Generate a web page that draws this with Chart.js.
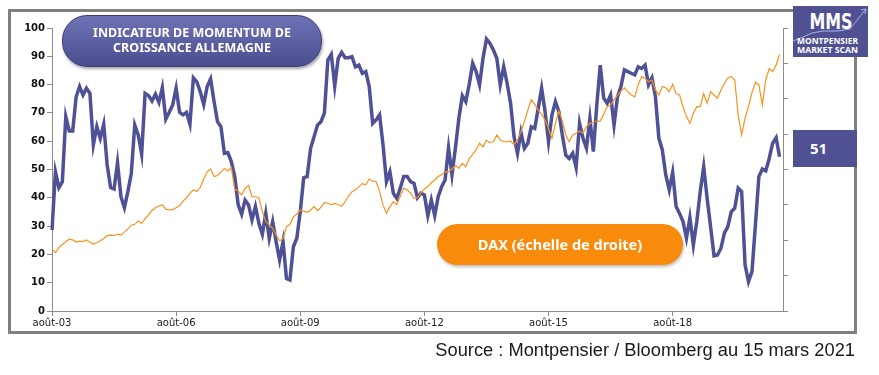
<!DOCTYPE html>
<html>
<head>
<meta charset="utf-8">
<script src="https://cdn.jsdelivr.net/npm/chart.js@4.4.1/dist/chart.umd.min.js"></script>
<style>
body { margin: 0; background: #fff; }
#wrap { position: relative; width: 879px; height: 375px; overflow: hidden; }
#frame { position: absolute; left: 8px; top: 9px; width: 843px; height: 319px; border: 3px solid #808080; }
#myChart { position: absolute; left: 0; top: 0; }
.pill { position: absolute; color: #fff; font-family: "Noto Sans", sans-serif; font-weight: bold; text-align: center; }
#title { left: 62px; top: 15px; width: 258px; height: 48px; border-radius: 25px;
  background: linear-gradient(#7072b6, #4b4d91); border: 1px solid #3a3c77;
  box-shadow: 1px 2px 3px rgba(0,0,0,0.35); font-size: 12.5px; line-height: 15px; padding-top: 2px; box-sizing: content-box; }
#title div { margin-top: 7px; }
#dax { left: 437px; top: 224px; width: 246px; height: 41px; border-radius: 21px; background: #f88a0c;
  box-shadow: 1px 2px 3px rgba(0,0,0,0.25); font-size: 14.5px; line-height: 41px; }
#logo { position: absolute; left: 793px; top: 6px; width: 75px; height: 51px; background: #4f5193; }
#last { position: absolute; left: 793px; top: 130px; width: 64px; height: 37px; background: #4f5193;
  color: #fff; font-family: "Noto Sans", sans-serif; font-weight: bold; font-size: 15px; line-height: 37px; padding-left: 17px; box-sizing: border-box; }
#source { position: absolute; right: 24px; top: 341px; font-family: "Liberation Sans", Arial, sans-serif; font-size: 18.3px; color: #1a1a1a; line-height: 1; }
</style>
</head>
<body>
<div id="wrap">
  <div id="frame"></div>
  <canvas id="myChart" width="879" height="375"></canvas>
  <div class="pill" id="title"><div>INDICATEUR DE MOMENTUM DE<br>CROISSANCE ALLEMAGNE</div></div>
  <div class="pill" id="dax">DAX (échelle de droite)</div>
  <svg id="logo" width="75" height="51" viewBox="0 0 75 51">
    <polyline points="0,35 10,31 19,27 30,25 45,25 57,23 73,3" fill="none" stroke="#a9b0e6" stroke-width="1"/>
    <polyline points="68,4 73,3 72,8" fill="none" stroke="#a9b0e6" stroke-width="1"/>
    <text x="38" y="23" text-anchor="middle" font-family="DejaVu Sans, sans-serif" font-weight="bold" font-size="21" fill="#fff" textLength="43" lengthAdjust="spacingAndGlyphs">MMS</text>
    <text x="4" y="38" font-family="Open Sans, sans-serif" font-weight="bold" font-size="8" fill="#fff" textLength="61" lengthAdjust="spacingAndGlyphs">MONTPENSIER</text>
    <text x="4" y="47" font-family="Open Sans, sans-serif" font-weight="bold" font-size="8" fill="#fff" textLength="61" lengthAdjust="spacingAndGlyphs">MARKET SCAN</text>
  </svg>
  <div id="last">51</div>
  <div id="source">Source : Montpensier / Bloomberg au 15 mars 2021</div>
</div>
<script>
const canvas = document.getElementById('myChart')
let myChart

// mois en abrégé, séries mensuelles d'août 2003 à mars 2021
const monthNames = ['janv', 'févr', 'mars', 'avr', 'mai', 'juin', 'juil', 'août', 'sept', 'oct', 'nov', 'déc']
const firstYear = 2003
const firstMonth = 7   // août
const shownEvery = 36  // une étiquette tous les 3 ans

// indicateur de momentum de croissance Allemagne (échelle de gauche)
const momentum = [
  28.6, 49.2, 43.6, 45.7, 68.7, 63.6, 63.6, 75.7, 79.3, 76.3,
  78.7, 76.9, 58.7, 65.1, 61, 66, 51.6, 43.6, 43.1, 52.4,
  40.4, 36.5, 42.2, 48.6, 65.7, 62.2, 55.4, 76.9, 76.1, 74.2,
  76.6, 73.7, 78.9, 67.8, 70.2, 72.8, 78.7, 70.2, 69.3, 70.2,
  66, 82.4, 81, 77.5, 73, 79.3, 82, 74, 66.9, 65.1,
  55.7, 56, 52.8, 47.5, 37.5, 34.2, 39.2, 37.5, 32.2, 36.9,
  31, 27.1, 34.5, 25.7, 31.6, 24.5, 18, 24.5, 11.5,
  11, 22.7, 25.7, 35.1, 47.1, 47.5, 57.5, 61.6, 65.7, 66.9,
  69.9, 88.7, 90.7, 79.5, 89.3, 91.4, 89.5, 89.5, 89.9, 86.3,
  86.9, 84, 84.6, 79.3, 66.3, 67.5, 69.3, 58.7, 45.7, 49.2,
  41.6, 39.8, 43.4, 47.5, 47.5, 45.7, 45.1, 40, 41.6, 41,
  33.7, 39.2, 33.7, 40.4, 43.9, 46.3, 57.7, 48.1, 57.7, 68.1,
  76.1, 74, 80.1, 87.5, 84.6, 79.9, 89.3, 96.1, 94.6, 92.2,
  89.3, 79.9, 86.3, 80.4, 73.4, 61.6, 55.7, 63.1, 57.5, 59.3, 65.1,
  64.5, 71.6, 78.7, 70.4, 59.8, 69.3, 74, 70.4, 62.2, 55.1,
  53.9, 55.7, 50.7, 66.3, 61, 57.5, 68.1, 56.3, 72.8, 86.9,
  75.2, 73.4, 76.3, 65.7, 75.7, 79.3, 85.2, 84.6, 84, 83.4,
  86.3, 85.7, 86.9, 79.9, 82.4, 75.7, 61, 56.9, 48.1, 42.8,
  49, 36.9, 34.5, 31.6, 25.7, 33, 23.3, 31.6, 42.2, 51,
  39.8, 29.8, 19.5, 19.8, 22.2, 27.5, 29.8, 35.1, 36.3, 43.4,
  42.2, 16.3, 10.4, 13.9, 30.4, 47.5, 50.2, 49.5, 53.9, 59.3, 61.2, 54.5
]

// DAX (échelle de droite)
const dax = [
  3500, 3300, 3600, 3760, 3920, 4060, 4020, 3900, 3950, 3920,
  4020, 3890, 3780, 3860, 3970, 4100, 4260, 4290, 4270, 4350,
  4290, 4460, 4640, 4850, 4900, 5090, 4960, 5220, 5440, 5680,
  5840, 5940, 6000, 5760, 5710, 5730, 5840, 5950, 6210, 6400,
  6660, 6850, 6770, 6980, 7460, 7870, 8030, 7600, 7660, 7870,
  8060, 7920, 8110, 6880, 6780, 6560, 6940, 7090, 6460, 6460,
  6400, 5620, 5060, 4860, 4670, 4300, 3970, 4080, 4770, 4900,
  5330, 5470, 5710, 5650, 5580, 5710, 5900, 5680, 5860, 6140,
  6080, 6020, 6080, 6020, 5920, 6180, 6500, 6750, 6850, 7020,
  7200, 7140, 7460, 7340, 7310, 6750, 6000, 5520, 5900, 6180,
  6020, 6480, 6940, 6850, 6660, 6370, 6400, 6660, 6900, 7020,
  7250, 7410, 7600, 7710, 7870, 7870, 8030, 8220, 8060, 8350,
  8160, 8620, 8860, 9120, 9490, 9280, 9660, 9520, 9570, 9950,
  9660, 9570, 9570, 9600, 9410, 9660, 10140, 10700, 11360, 11940,
  11680, 11360, 11120, 10800, 10320, 9760, 10610, 11310, 10740, 9950,
  9570, 9950, 10050, 10180, 10050, 10420, 10610, 10670, 10740, 10740,
  11120, 11550, 11650, 11940, 12210, 12430, 12620, 12400, 12210, 12110,
  12780, 13250, 13150, 12960, 13060, 12500, 12210, 12690, 12620, 12400,
  12820, 12300, 12210, 11550, 10990, 10610, 11180, 11550, 11550, 12300,
  11740, 12400, 12210, 12030, 12500, 12860, 13180, 13250, 13060, 11090,
  9950, 10900, 11550, 12350, 12930, 12780, 11650, 13060, 13710, 13540, 13900, 14510
]

// un mois vide en plus pour aller jusqu'au bord droit
const labels = []
for (let i = 0; i <= momentum.length; i++) {
    const m = firstMonth + i
    const year = firstYear + Math.floor(m / 12)
    labels.push(monthNames[m % 12] + '-' + String(year % 100).padStart(2, '0'))
}

const axisGrey = '#8c8c8c'

function createChart(){
    const config = {
        type: 'line',
        data: {
            labels: labels,
            datasets: [{
                label: 'DAX',
                data: dax,
                yAxisID: 'y2',
                borderColor: '#f7921c',
                borderWidth: 1.2,
                pointRadius: 0,
                tension: 0
            }, {
                label: 'Momentum',
                data: momentum,
                yAxisID: 'y',
                borderColor: '#4e5196',
                borderWidth: 3.5,
                pointRadius: 0,
                tension: 0
            }]
        },
        options: {
            responsive: false,
            animation: false,
            layout: {
                padding: {top: 28, left: 0, right: 0, bottom: 0}
            },
            plugins: {
                legend: {display: false},
                tooltip: {enabled: false}
            },
            scales: {
                x: {
                    offset: false,
                    grid: {drawOnChartArea: false, tickLength: 5, color: axisGrey},
                    border: {color: axisGrey},
                    ticks: {
                        autoSkip: false,
                        maxRotation: 0,
                        padding: 1,
                        color: '#1a1a1a',
                        font: {family: 'DejaVu Sans', size: 10},
                        callback: (v, i) => i % shownEvery === 0 ? labels[i] : null
                    },
                    afterFit: s => { s.height = 64 }
                },
                y: {
                    position: 'left',
                    min: 0,
                    max: 100,
                    grid: {drawOnChartArea: false, tickLength: 5, color: axisGrey},
                    border: {color: axisGrey},
                    ticks: {
                        stepSize: 10,
                        padding: 2,
                        color: '#111',
                        font: {family: 'DejaVu Sans', size: 10, weight: 'bold'}
                    },
                    afterFit: s => { s.width = 52 }
                },
                y2: {
                    position: 'right',
                    min: 0,
                    max: 16000,
                    grid: {drawOnChartArea: false, tickLength: 5, color: axisGrey},
                    border: {color: axisGrey},
                    ticks: {stepSize: 2000, display: false},
                    afterFit: s => { s.width = 96 }
                }
            }
        }
    }

    myChart = new Chart(canvas, config)
}

createChart()
</script>
</body>
</html>
